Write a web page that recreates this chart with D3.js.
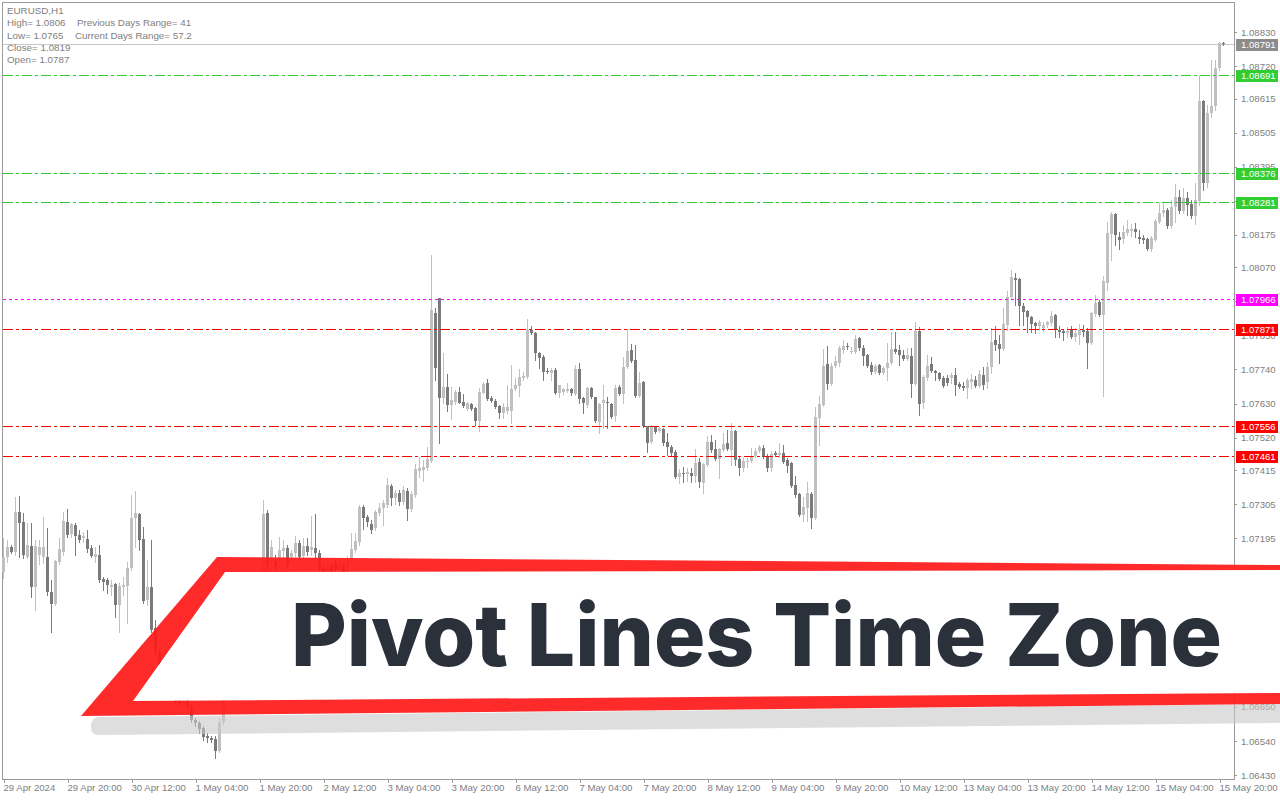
<!DOCTYPE html>
<html><head><meta charset="utf-8">
<script src="https://cdn.jsdelivr.net/npm/d3@7"></script>
<style>
body{margin:0;background:#fff;overflow:hidden}
svg{display:block}
text{font-family:"Liberation Sans",Arial,sans-serif}
</style></head><body>
<svg id="c" width="1280" height="800"></svg>
<script>
// ---------------- data ----------------
const opens=[1.07086,1.07134,1.07166,1.07150,1.07279,1.07247,1.07134,1.07170,1.07037,1.07140,
1.07134,1.07134,1.07021,1.06982,1.07118,1.07150,1.07247,1.07208,1.07237,1.07205,
1.07195,1.07192,1.07163,1.07134,1.07140,1.07063,1.07060,1.07037,1.07047,1.06979,
1.07037,1.07040,1.07099,1.07260,1.07273,1.07192,1.06995,1.07037,1.06905,1.06827,
1.06785,1.06753,1.06776,1.06720,1.06678,1.06662,1.06688,1.06646,1.06607,1.06598,
1.06582,1.06556,1.06549,1.06546,1.06507,1.06601,1.06698,1.06737,1.06711,1.06785,
1.06834,1.06801,1.06882,1.06850,1.06963,1.07027,1.07276,1.07125,1.07121,1.07131,
1.07153,1.07163,1.07134,1.07147,1.07179,1.07137,1.07170,1.07157,1.07163,1.07147,
1.07099,1.07076,1.07105,1.07115,1.07092,1.07108,1.07086,1.07125,1.07157,1.07182,
1.07295,1.07263,1.07240,1.07228,1.07276,1.07292,1.07302,1.07363,1.07324,1.07341,
1.07311,1.07347,1.07289,1.07334,1.07412,1.07415,1.07421,1.07444,1.07922,1.07971,
1.07648,1.07683,1.07625,1.07635,1.07667,1.07635,1.07612,1.07628,1.07615,1.07573,
1.07664,1.07696,1.07648,1.07638,1.07622,1.07599,1.07605,1.07605,1.07677,1.07686,
1.07712,1.07715,1.07867,1.07857,1.07793,1.07780,1.07735,1.07728,1.07738,1.07664,
1.07667,1.07670,1.07677,1.07660,1.07741,1.07648,1.07625,1.07680,1.07651,1.07570,
1.07631,1.07635,1.07628,1.07589,1.07683,1.07660,1.07748,1.07803,1.07770,1.07654,
1.07699,1.07557,1.07505,1.07554,1.07541,1.07547,1.07505,1.07489,1.07473,1.07392,
1.07405,1.07402,1.07405,1.07396,1.07441,1.07373,1.07431,1.07505,1.07483,1.07450,
1.07479,1.07502,1.07479,1.07541,1.07450,1.07421,1.07441,1.07444,1.07460,1.07476,
1.07486,1.07457,1.07421,1.07470,1.07463,1.07470,1.07447,1.07437,1.07366,1.07337,
1.07270,1.07292,1.07337,1.07260,1.07583,1.07625,1.07757,1.07693,1.07751,1.07761,
1.07803,1.07815,1.07796,1.07796,1.07841,1.07809,1.07786,1.07754,1.07731,1.07754,
1.07728,1.07744,1.07761,1.07806,1.07803,1.07786,1.07774,1.07783,1.07693,1.07864,
1.07631,1.07712,1.07757,1.07735,1.07728,1.07712,1.07712,1.07712,1.07722,1.07693,
1.07686,1.07680,1.07699,1.07706,1.07686,1.07722,1.07699,1.07748,1.07835,1.07822,
1.07806,1.07883,1.07974,1.08035,1.08032,1.07945,1.07929,1.07909,1.07890,1.07880,
1.07874,1.07883,1.07890,1.07916,1.07867,1.07864,1.07857,1.07870,1.07845,1.07851,
1.07867,1.07864,1.07825,1.07919,1.07958,1.07916,1.08019,1.08177,1.08242,1.08167,
1.08161,1.08180,1.08187,1.08193,1.08167,1.08164,1.08161,1.08129,1.08158,1.08216,
1.08245,1.08255,1.08203,1.08264,1.08297,1.08251,1.08293,1.08274,1.08235,1.08284,
1.08607,1.08342,1.08568,1.08591,1.08713,1.08794];
const highs=[1.07195,1.07189,1.07173,1.07328,1.07331,1.07276,1.07244,1.07244,1.07189,1.07189,
1.07263,1.07228,1.07060,1.07125,1.07195,1.07279,1.07289,1.07244,1.07244,1.07221,
1.07215,1.07221,1.07173,1.07166,1.07173,1.07070,1.07067,1.07060,1.07050,1.07050,
1.07070,1.07118,1.07334,1.07347,1.07276,1.07231,1.07125,1.07189,1.06931,1.06840,
1.06801,1.06788,1.06785,1.06730,1.06691,1.06688,1.06704,1.06656,1.06614,1.06604,
1.06588,1.06565,1.06556,1.06556,1.06614,1.06711,1.06750,1.06750,1.06801,1.06850,
1.06850,1.06898,1.06905,1.06979,1.07060,1.07318,1.07286,1.07189,1.07140,1.07199,
1.07189,1.07173,1.07157,1.07202,1.07189,1.07195,1.07195,1.07266,1.07273,1.07157,
1.07108,1.07118,1.07115,1.07125,1.07121,1.07118,1.07137,1.07212,1.07212,1.07302,
1.07302,1.07270,1.07253,1.07286,1.07308,1.07318,1.07389,1.07370,1.07350,1.07350,
1.07363,1.07357,1.07347,1.07434,1.07457,1.07447,1.07489,1.08109,1.07938,1.07971,
1.07793,1.07725,1.07683,1.07674,1.07683,1.07660,1.07635,1.07631,1.07618,1.07680,
1.07699,1.07709,1.07654,1.07645,1.07625,1.07631,1.07689,1.07754,1.07712,1.07741,
1.07731,1.07903,1.07880,1.07861,1.07796,1.07786,1.07744,1.07744,1.07744,1.07689,
1.07680,1.07696,1.07680,1.07754,1.07761,1.07651,1.07683,1.07683,1.07651,1.07631,
1.07689,1.07651,1.07631,1.07689,1.07689,1.07780,1.07870,1.07822,1.07819,1.07731,
1.07702,1.07557,1.07560,1.07557,1.07554,1.07551,1.07535,1.07496,1.07479,1.07418,
1.07425,1.07421,1.07421,1.07483,1.07454,1.07437,1.07525,1.07528,1.07512,1.07486,
1.07535,1.07544,1.07567,1.07544,1.07457,1.07454,1.07454,1.07486,1.07486,1.07496,
1.07496,1.07467,1.07476,1.07476,1.07502,1.07496,1.07454,1.07441,1.07396,1.07341,
1.07328,1.07376,1.07344,1.07618,1.07654,1.07806,1.07815,1.07761,1.07783,1.07815,
1.07835,1.07825,1.07812,1.07851,1.07845,1.07819,1.07790,1.07764,1.07757,1.07757,
1.07751,1.07825,1.07861,1.07861,1.07819,1.07803,1.07809,1.07809,1.07893,1.07877,
1.07722,1.07786,1.07780,1.07738,1.07731,1.07719,1.07722,1.07728,1.07744,1.07699,
1.07699,1.07712,1.07725,1.07719,1.07738,1.07748,1.07764,1.07874,1.07880,1.07851,
1.07938,1.07993,1.08061,1.08051,1.08035,1.07954,1.07932,1.07913,1.07893,1.07900,
1.07893,1.07896,1.07929,1.07919,1.07880,1.07870,1.07877,1.07880,1.07874,1.07886,
1.07883,1.07874,1.07925,1.07980,1.07964,1.08042,1.08216,1.08248,1.08245,1.08184,
1.08206,1.08222,1.08210,1.08213,1.08190,1.08174,1.08164,1.08171,1.08226,1.08277,
1.08277,1.08261,1.08287,1.08339,1.08319,1.08326,1.08313,1.08287,1.08342,1.08688,
1.08610,1.08594,1.08739,1.08739,1.08797,1.08797];
const lows=[1.07067,1.07118,1.07147,1.07140,1.07134,1.07131,1.07131,1.07005,1.06963,1.07112,
1.07115,1.07011,1.06892,1.06979,1.07112,1.07140,1.07199,1.07199,1.07140,1.07182,
1.07182,1.07150,1.07134,1.07118,1.07053,1.07027,1.07018,1.07011,1.06940,1.06892,
1.07011,1.06921,1.07092,1.07166,1.07157,1.06985,1.06979,1.06892,1.06817,1.06776,
1.06737,1.06743,1.06711,1.06659,1.06656,1.06653,1.06646,1.06601,1.06588,1.06565,
1.06543,1.06536,1.06536,1.06485,1.06504,1.06595,1.06691,1.06698,1.06704,1.06776,
1.06788,1.06788,1.06834,1.06840,1.06950,1.07021,1.07076,1.07108,1.07086,1.07118,
1.07131,1.07099,1.07125,1.07137,1.07125,1.07131,1.07140,1.07140,1.07131,1.07076,
1.07060,1.07067,1.07073,1.07079,1.07082,1.07076,1.07076,1.07115,1.07150,1.07173,
1.07224,1.07234,1.07212,1.07221,1.07270,1.07237,1.07295,1.07302,1.07305,1.07302,
1.07305,1.07253,1.07282,1.07328,1.07392,1.07379,1.07415,1.07441,1.07706,1.07502,
1.07631,1.07605,1.07580,1.07628,1.07631,1.07618,1.07609,1.07609,1.07560,1.07541,
1.07664,1.07641,1.07635,1.07615,1.07583,1.07583,1.07599,1.07567,1.07674,1.07654,
1.07706,1.07712,1.07854,1.07770,1.07744,1.07706,1.07728,1.07706,1.07660,1.07651,
1.07660,1.07667,1.07657,1.07657,1.07631,1.07599,1.07618,1.07648,1.07570,1.07535,
1.07551,1.07551,1.07583,1.07573,1.07657,1.07631,1.07744,1.07764,1.07651,1.07651,
1.07554,1.07473,1.07502,1.07535,1.07538,1.07496,1.07463,1.07463,1.07389,1.07373,
1.07376,1.07379,1.07376,1.07376,1.07360,1.07341,1.07428,1.07473,1.07447,1.07389,
1.07476,1.07479,1.07431,1.07431,1.07399,1.07412,1.07425,1.07441,1.07457,1.07473,
1.07454,1.07412,1.07412,1.07460,1.07457,1.07437,1.07408,1.07360,1.07328,1.07266,
1.07250,1.07250,1.07228,1.07257,1.07496,1.07622,1.07677,1.07689,1.07748,1.07751,
1.07793,1.07806,1.07793,1.07793,1.07803,1.07754,1.07748,1.07725,1.07728,1.07725,
1.07725,1.07706,1.07757,1.07793,1.07754,1.07770,1.07770,1.07651,1.07689,1.07593,
1.07615,1.07706,1.07731,1.07706,1.07706,1.07683,1.07689,1.07696,1.07657,1.07680,
1.07674,1.07648,1.07680,1.07683,1.07683,1.07677,1.07680,1.07728,1.07803,1.07761,
1.07803,1.07867,1.07970,1.07948,1.07883,1.07883,1.07861,1.07861,1.07857,1.07867,
1.07864,1.07877,1.07883,1.07845,1.07845,1.07835,1.07845,1.07841,1.07832,1.07822,
1.07848,1.07744,1.07822,1.07913,1.07913,1.07654,1.07996,1.08093,1.08142,1.08129,
1.08148,1.08174,1.08171,1.08167,1.08148,1.08148,1.08126,1.08122,1.08155,1.08213,
1.08235,1.08197,1.08197,1.08216,1.08245,1.08245,1.08239,1.08229,1.08210,1.08271,
1.08319,1.08329,1.08555,1.08578,1.08707,1.08788];
const closes=[1.07134,1.07166,1.07150,1.07279,1.07244,1.07140,1.07173,1.07037,1.07170,1.07166,
1.07166,1.07021,1.06982,1.07121,1.07160,1.07250,1.07205,1.07240,1.07202,1.07189,
1.07202,1.07160,1.07137,1.07144,1.07060,1.07053,1.07044,1.07044,1.06979,1.07040,
1.07044,1.07099,1.07260,1.07276,1.07189,1.06992,1.07037,1.06898,1.06827,1.06785,
1.06753,1.06776,1.06720,1.06666,1.06662,1.06675,1.06649,1.06607,1.06598,1.06578,
1.06553,1.06549,1.06543,1.06507,1.06601,1.06698,1.06737,1.06711,1.06785,1.06834,
1.06801,1.06882,1.06850,1.06963,1.07027,1.07273,1.07108,1.07166,1.07102,1.07157,
1.07163,1.07108,1.07147,1.07179,1.07134,1.07170,1.07150,1.07166,1.07147,1.07092,
1.07076,1.07105,1.07086,1.07092,1.07108,1.07086,1.07125,1.07160,1.07186,1.07295,
1.07260,1.07247,1.07221,1.07279,1.07292,1.07308,1.07366,1.07324,1.07341,1.07311,
1.07350,1.07289,1.07337,1.07418,1.07421,1.07425,1.07450,1.07932,1.07744,1.07648,
1.07683,1.07625,1.07641,1.07667,1.07631,1.07622,1.07631,1.07612,1.07573,1.07667,
1.07693,1.07645,1.07638,1.07618,1.07599,1.07618,1.07618,1.07677,1.07689,1.07715,
1.07719,1.07867,1.07857,1.07793,1.07777,1.07731,1.07731,1.07738,1.07664,1.07689,
1.07677,1.07677,1.07664,1.07741,1.07645,1.07631,1.07680,1.07651,1.07573,1.07628,
1.07641,1.07631,1.07586,1.07680,1.07660,1.07748,1.07799,1.07767,1.07654,1.07696,
1.07557,1.07502,1.07557,1.07538,1.07551,1.07502,1.07489,1.07470,1.07392,1.07405,
1.07402,1.07408,1.07396,1.07437,1.07376,1.07434,1.07505,1.07479,1.07450,1.07483,
1.07499,1.07483,1.07541,1.07447,1.07421,1.07444,1.07444,1.07460,1.07476,1.07489,
1.07457,1.07421,1.07467,1.07463,1.07470,1.07441,1.07428,1.07363,1.07334,1.07270,
1.07295,1.07341,1.07260,1.07586,1.07628,1.07751,1.07693,1.07751,1.07767,1.07809,
1.07815,1.07812,1.07799,1.07838,1.07809,1.07783,1.07751,1.07731,1.07751,1.07728,
1.07744,1.07761,1.07806,1.07796,1.07786,1.07774,1.07786,1.07693,1.07864,1.07628,
1.07715,1.07751,1.07735,1.07728,1.07709,1.07686,1.07696,1.07722,1.07689,1.07683,
1.07680,1.07706,1.07709,1.07686,1.07725,1.07689,1.07748,1.07829,1.07819,1.07806,
1.07886,1.07974,1.08039,1.08029,1.07945,1.07925,1.07909,1.07886,1.07880,1.07893,
1.07883,1.07893,1.07913,1.07867,1.07861,1.07857,1.07864,1.07845,1.07857,1.07867,
1.07861,1.07825,1.07922,1.07954,1.07916,1.08026,1.08180,1.08242,1.08174,1.08158,
1.08184,1.08193,1.08193,1.08184,1.08161,1.08158,1.08129,1.08164,1.08219,1.08245,
1.08255,1.08203,1.08264,1.08297,1.08251,1.08293,1.08271,1.08235,1.08287,1.08607,
1.08342,1.08568,1.08591,1.08713,1.08794,1.08791];

const priceTicks=[1.08830,1.08720,1.08615,1.08505,1.08395,1.08285,1.08175,1.08070,1.07960,1.07850,
1.07740,1.07630,1.07520,1.07415,1.07305,1.07195,1.07085,1.06975,1.06870,1.06760,1.06650,1.06540,1.06430];
const timeLabelBars=[0,16,32,48,64,80,96,112,128,144,160,176,192,208,224,240,256,272,288,304];
const timeLabels=["29 Apr 2024","29 Apr 20:00","30 Apr 12:00","1 May 04:00","1 May 20:00","2 May 12:00",
"3 May 04:00","3 May 20:00","6 May 12:00","7 May 04:00","7 May 20:00","8 May 12:00","9 May 04:00",
"9 May 20:00","10 May 12:00","13 May 04:00","13 May 20:00","14 May 12:00","15 May 04:00","15 May 20:00"];
const pivotLevels=[1.08691,1.08376,1.08281,1.07966,1.07871,1.07556,1.07461];
const pivotKinds=["up","up","up","mid","down","down","down"];
const bidPrice=1.08791;
const infoLines=["EURUSD,H1","High= 1.0806","Low= 1.0765","Close= 1.0819","Open= 1.0787"];
const infoRight=["Previous Days Range= 41","Current Days Range= 57.2"];
const bannerTitle="Pivot Lines Time Zone";

// ---------------- drawing ----------------
const svg=d3.select("#c");
const L=2,R=1234,T=2,B=779;
const y=d3.scaleLinear().domain([1.06430,1.08830]).range([775,32]);
const x=d3.scaleLinear().domain([0,305]).range([3.5,1223.5]);
const bull="#c0c0c0", bear="#7a7a7a";
const kindColor={up:"#32cd32",mid:"#ff00ff",down:"#ff0000"};
const kindDash={up:"10,3,3,3",mid:"3,3",down:"10,3,3,3"};

svg.append("rect").attr("width",1280).attr("height",800).attr("fill","#fff");

// frame
const frame=svg.append("g").attr("shape-rendering","crispEdges").attr("stroke","#9b9b9b").attr("fill","none");
frame.append("rect").attr("x",L+0.5).attr("y",T+0.5).attr("width",R-L).attr("height",B-T);

// bid line
svg.append("line").attr("x1",L+1).attr("x2",R).attr("y1",Math.round(y(bidPrice))+0.5).attr("y2",Math.round(y(bidPrice))+0.5)
 .attr("stroke","#c8c8c8").attr("shape-rendering","crispEdges");

// candles
const idx=d3.range(opens.length);
const cg=svg.append("g").attr("shape-rendering","crispEdges");
cg.selectAll("line.w").data(idx).join("line").attr("class","w")
 .attr("x1",i=>x(i)).attr("x2",i=>x(i))
 .attr("y1",i=>Math.round(y(highs[i]))).attr("y2",i=>Math.round(y(lows[i]))+1)
 .attr("stroke",i=>closes[i]>=opens[i]?bull:bear);
cg.selectAll("rect.b").data(idx).join("rect").attr("class","b")
 .attr("x",i=>x(i)-1.5).attr("width",3)
 .attr("y",i=>Math.round(y(Math.max(opens[i],closes[i]))))
 .attr("height",i=>Math.max(1,Math.round(y(Math.min(opens[i],closes[i])))-Math.round(y(Math.max(opens[i],closes[i])))))
 .attr("fill",i=>closes[i]>=opens[i]?bull:bear);

// pivot lines
const pg=svg.append("g").attr("shape-rendering","crispEdges");
pg.selectAll("line").data(pivotLevels).join("line")
 .attr("x1",L+1).attr("x2",R)
 .attr("y1",d=>Math.round(y(d))+0.5).attr("y2",d=>Math.round(y(d))+0.5)
 .attr("stroke",(d,i)=>kindColor[pivotKinds[i]])
 .attr("stroke-dasharray",(d,i)=>kindDash[pivotKinds[i]]);

// price axis
const ax=svg.append("g").attr("transform",`translate(${R},0)`)
 .call(d3.axisRight(y).tickValues(priceTicks).tickSize(3).tickPadding(4).tickFormat(d3.format(".5f")));
ax.select(".domain").remove();
ax.selectAll("line").attr("stroke","#9b9b9b").attr("shape-rendering","crispEdges");
ax.selectAll("text").attr("fill","#808080").style("font-size","9.6px").style("font-family","Liberation Sans, Arial, sans-serif");

// tags
const tags=pivotLevels.map((v,i)=>({v,c:kindColor[pivotKinds[i]]})).concat([{v:bidPrice,c:"#8c8c8c"}]);
const tg=svg.append("g");
tg.selectAll("rect").data(tags).join("rect").attr("x",R+2).attr("width",42)
 .attr("y",d=>Math.round(y(d.v))-5.5).attr("height",12).attr("fill",d=>d.c).attr("shape-rendering","crispEdges");
tg.selectAll("text").data(tags).join("text").attr("x",R+7).attr("y",d=>Math.round(y(d.v))+4)
 .attr("fill","#fff").style("font-size","9.6px").text(d=>d3.format(".5f")(d.v));

// time axis
const tx=svg.append("g").attr("transform",`translate(0,${B})`)
 .call(d3.axisBottom(x).tickValues(timeLabelBars).tickSize(4).tickFormat((d,i)=>timeLabels[i]));
tx.select(".domain").remove();
tx.selectAll("line").attr("stroke","#9b9b9b").attr("shape-rendering","crispEdges");
tx.selectAll("text").attr("text-anchor","start").attr("dx","-0.5").attr("dy","0.55em").attr("fill","#808080")
 .style("font-size","9.6px").style("font-family","Liberation Sans, Arial, sans-serif");

// info text
const ig=svg.append("g").attr("fill","#808080").style("font-size","9.8px");
ig.selectAll("text.l").data(infoLines).join("text").attr("class","l")
 .attr("x",7).attr("y",(d,i)=>14+i*12.3).text(d=>d);
ig.selectAll("text.r").data(infoRight).join("text").attr("class","r")
 .attr("x",(d,i)=>i===0?77:75).attr("y",(d,i)=>26.3+i*12.3).text(d=>d);

// banner
const bg=svg.append("g");
bg.append("path").attr("d","M99,717 L1280,704 L1280,723 L99,735 Q91,735 91,727 Q91,717 99,717 Z")
 .attr("fill","rgba(200,200,200,0.6)");
bg.append("path").attr("d","M225,572 L1280,570 L1280,693 L133,701 Z").attr("fill","#fff");
bg.append("path").attr("fill-rule","evenodd").attr("fill","#ff1a1a").attr("fill-opacity",0.93)
 .attr("d","M217,557 L1280,565 L1280,704 L81,716 Z M225,572 L133,701 L1280,693 L1280,570 Z");
bg.append("text").attr("x",291).attr("y",666).attr("textLength",931).attr("lengthAdjust","spacingAndGlyphs")
 .attr("fill","#2b313b").style("font-family","Inter, 'Liberation Sans', sans-serif").style("font-weight",800)
 .style("font-size","87px").text(bannerTitle);
</script>
</body></html>
